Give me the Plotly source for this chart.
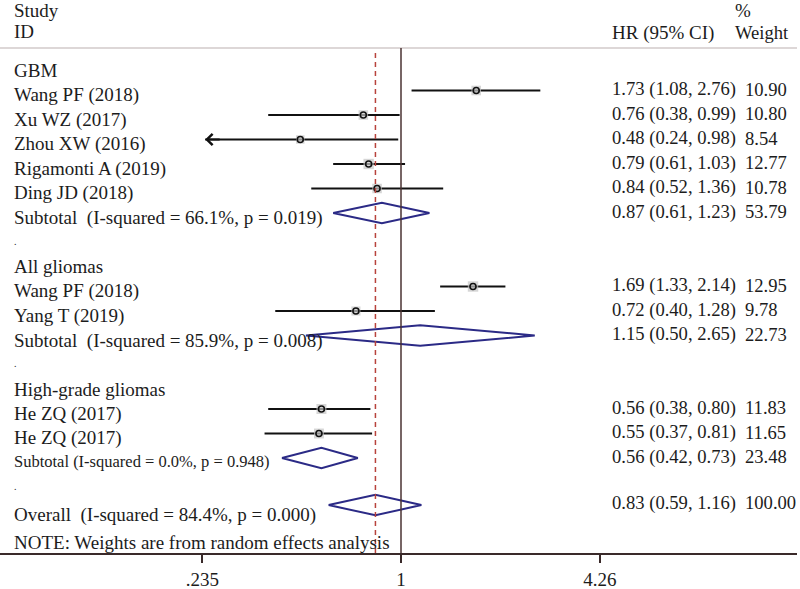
import math
import plotly.graph_objects as go

# ---------------- data ----------------
study_names = ["Wang PF (2018)", "Xu WZ (2017)", "Zhou XW (2016)", "Rigamonti A (2019)", "Ding JD (2018)",
               "Wang PF (2018)", "Yang T (2019)",
               "He ZQ (2017)", "He ZQ (2017)"]
study_group = [0, 0, 0, 0, 0, 1, 1, 2, 2]
study_hr = [1.73, 0.76, 0.48, 0.79, 0.84, 1.69, 0.72, 0.56, 0.55]
study_low = [1.08, 0.38, 0.24, 0.61, 0.52, 1.33, 0.40, 0.38, 0.37]
study_high = [2.76, 0.99, 0.98, 1.03, 1.36, 2.14, 1.28, 0.80, 0.81]
study_weight = [10.90, 10.80, 8.54, 12.77, 10.78, 12.95, 9.78, 11.83, 11.65]
study_truncated_low = [False, False, True, False, False, False, False, False, False]

group_names = ["GBM", "All gliomas", "High-grade gliomas"]
sub_hr = [0.87, 1.15, 0.56]
sub_low = [0.61, 0.50, 0.42]
sub_high = [1.23, 2.65, 0.73]
sub_weight = [53.79, 22.73, 23.48]
sub_i2 = ["66.1%", "85.9%", "0.0%"]
sub_p = ["0.019", "0.008", "0.948"]

overall_hr = 0.83
overall_low = 0.59
overall_high = 1.16
overall_weight = 100.00
overall_i2 = "84.4%"
overall_p = "0.000"

x_tick_vals = [0.235, 1, 4.26]
x_tick_text = [".235", "1", "4.26"]
note_text = "NOTE: Weights are from random effects analysis"

# ---------------- styling ----------------
W, H = 800, 589
M_L, M_R, M_T, M_B = 0, 3, 48, 36
PLOT_W = W - M_L - M_R
FONT = "Liberation Serif"
TXT = "#1c1c1c"
NB = "\u00a0"
FS = 19
FS_R = 18.6

ROW0_PX = 66.0
ROW_PX = 24.5
y_top = (M_T - ROW0_PX) / ROW_PX
y_bot = (H - M_B - ROW0_PX) / ROW_PX

PX_PER_DEC = 316.0
ONE_PX = 401.0
x_lo = (0 - ONE_PX) / PX_PER_DEC
x_hi = (PLOT_W - ONE_PX) / PX_PER_DEC

def px(p):
    return p / PLOT_W

LEFT_X = px(12)
HR_X = px(610)
WT_X = px(743)

# ---------------- build rows ----------------
rows = []
for g in range(len(group_names)):
    rows.append(("group", g))
    for i, sg in enumerate(study_group):
        if sg == g:
            rows.append(("study", i))
    rows.append(("sub", g))
    rows.append(("dot", g))
rows.append(("overall", 0))
rows.append(("note", 0))

fig = go.Figure()
annotations = []

def left_label(row, text, size=FS, dy=0.2):
    annotations.append(dict(x=LEFT_X, xref="paper", y=row + dy, yref="y", text=text,
                            showarrow=False, xanchor="left", yanchor="middle",
                            font=dict(family=FONT, size=size, color=TXT)))

def right_labels(row, hrv, lo, hi, wt, dy=-0.05):
    annotations.append(dict(x=HR_X, xref="paper", y=row + dy, yref="y",
                            text=f"{hrv:.2f} ({lo:.2f}, {hi:.2f})",
                            showarrow=False, xanchor="left", yanchor="middle",
                            font=dict(family=FONT, size=FS_R, color=TXT)))
    annotations.append(dict(x=WT_X, xref="paper", y=row + dy, yref="y",
                            text=f"{wt:.2f}",
                            showarrow=False, xanchor="left", yanchor="middle",
                            font=dict(family=FONT, size=FS_R, color=TXT)))

ci_x, ci_y = [], []
mk_x, mk_y, mk_s = [], [], []
diamonds = []

for r, (kind, idx) in enumerate(rows):
    if kind == "group":
        left_label(r, group_names[idx])
    elif kind == "study":
        left_label(r, study_names[idx])
        lo = max(study_low[idx], x_tick_vals[0])
        ci_x += [lo, study_high[idx], None]
        ci_y += [r, r, None]
        mk_x.append(study_hr[idx]); mk_y.append(r); mk_s.append(2.9 * math.sqrt(study_weight[idx]))
        if study_truncated_low[idx]:
            annotations.append(dict(x=math.log10(lo), y=r, xref="x", yref="y", ax=16, ay=0,
                                    text="", showarrow=True, arrowhead=4, arrowsize=1.1,
                                    arrowwidth=2, arrowcolor="#111111", standoff=0))
        right_labels(r, study_hr[idx], study_low[idx], study_high[idx], study_weight[idx])
    elif kind == "sub":
        small = idx == 2
        if small:
            txt = f"Subtotal{NB}(I-squared = {sub_i2[idx]}, p = {sub_p[idx]})"
        else:
            txt = f"Subtotal{NB}{NB}(I-squared = {sub_i2[idx]}, p = {sub_p[idx]})"
        left_label(r, txt, size=16.5 if small else FS, dy=0.15 if small else 0.22)
        diamonds.append((sub_hr[idx], sub_low[idx], sub_high[idx], r))
        right_labels(r, sub_hr[idx], sub_low[idx], sub_high[idx], sub_weight[idx])
    elif kind == "dot":
        left_label(r, ".", size=10, dy=0.15)
    elif kind == "overall":
        left_label(r, f"Overall{NB}{NB}(I-squared = {overall_i2}, p = {overall_p})", dy=0.33)
        diamonds.append((overall_hr, overall_low, overall_high, r - 0.08))
        right_labels(r, overall_hr, overall_low, overall_high, overall_weight, dy=-0.18)
    elif kind == "note":
        left_label(r, note_text, dy=0.45)

fig.add_trace(go.Scatter(x=ci_x, y=ci_y, mode="lines", line=dict(color="#111111", width=2),
                         hoverinfo="skip", showlegend=False))
fig.add_trace(go.Scatter(x=mk_x, y=mk_y, mode="markers",
                         marker=dict(symbol="square", size=mk_s, color="#c4c4c4", line=dict(width=0)),
                         hoverinfo="skip", showlegend=False))
fig.add_trace(go.Scatter(x=mk_x, y=mk_y, mode="markers",
                         marker=dict(symbol="circle-open", size=6, color="#111111", line=dict(width=1.6)),
                         hoverinfo="skip", showlegend=False))
HALF = 0.42
for (c, lo, hi, r) in diamonds:
    fig.add_trace(go.Scatter(x=[lo, c, hi, c, lo], y=[r, r - HALF, r, r + HALF, r], mode="lines",
                             line=dict(color="#2b2a86", width=2),
                             hoverinfo="skip", showlegend=False))

shapes = [
    dict(type="line", xref="paper", yref="paper", x0=0, x1=1, y0=1, y1=1,
         line=dict(color="#d2caca", width=1.5)),
    dict(type="line", xref="x", yref="paper", x0=1, x1=1, y0=0, y1=1,
         line=dict(color="#4a3232", width=1.5)),
    dict(type="line", xref="x", yref="paper", x0=overall_hr, x1=overall_hr, y0=0, y1=0.995,
         line=dict(color="#b8433c", width=1.5, dash="5px,4px")),
]

def py(p):
    return (H - M_B - p) / (H - M_T - M_B)

hdr_font = dict(family=FONT, size=FS, color=TXT)
annotations += [
    dict(x=LEFT_X, xref="paper", y=py(11), yref="paper", text="Study", showarrow=False,
         xanchor="left", yanchor="middle", font=hdr_font),
    dict(x=LEFT_X, xref="paper", y=py(32), yref="paper", text="ID", showarrow=False,
         xanchor="left", yanchor="middle", font=hdr_font),
    dict(x=HR_X, xref="paper", y=py(33), yref="paper", text="HR (95% CI)", showarrow=False,
         xanchor="left", yanchor="middle", font=hdr_font),
    dict(x=px(733), xref="paper", y=py(11), yref="paper", text="%", showarrow=False,
         xanchor="left", yanchor="middle", font=hdr_font),
    dict(x=px(733), xref="paper", y=py(33), yref="paper", text="Weight", showarrow=False,
         xanchor="left", yanchor="middle", font=dict(family=FONT, size=FS_R, color=TXT)),
]

fig.update_layout(
    width=W, height=H,
    margin=dict(l=M_L, r=M_R, t=M_T, b=M_B),
    paper_bgcolor="white", plot_bgcolor="white",
    showlegend=False,
    shapes=shapes,
    annotations=annotations,
    xaxis=dict(type="log", range=[x_lo, x_hi], tickvals=x_tick_vals, ticktext=x_tick_text,
               ticks="outside", ticklen=8, tickwidth=1.5, tickcolor="#3a2a2a",
               showline=True, linecolor="#3a2a2a", linewidth=1.5,
               showgrid=False, zeroline=False,
               tickfont=dict(family=FONT, size=FS, color=TXT)),
    yaxis=dict(range=[y_bot, y_top], visible=False, showgrid=False, zeroline=False),
)

fig.write_html("out.html", config={"displayModeBar": False},
               post_script="document.body.style.margin='0px';document.body.style.overflow='hidden';")
